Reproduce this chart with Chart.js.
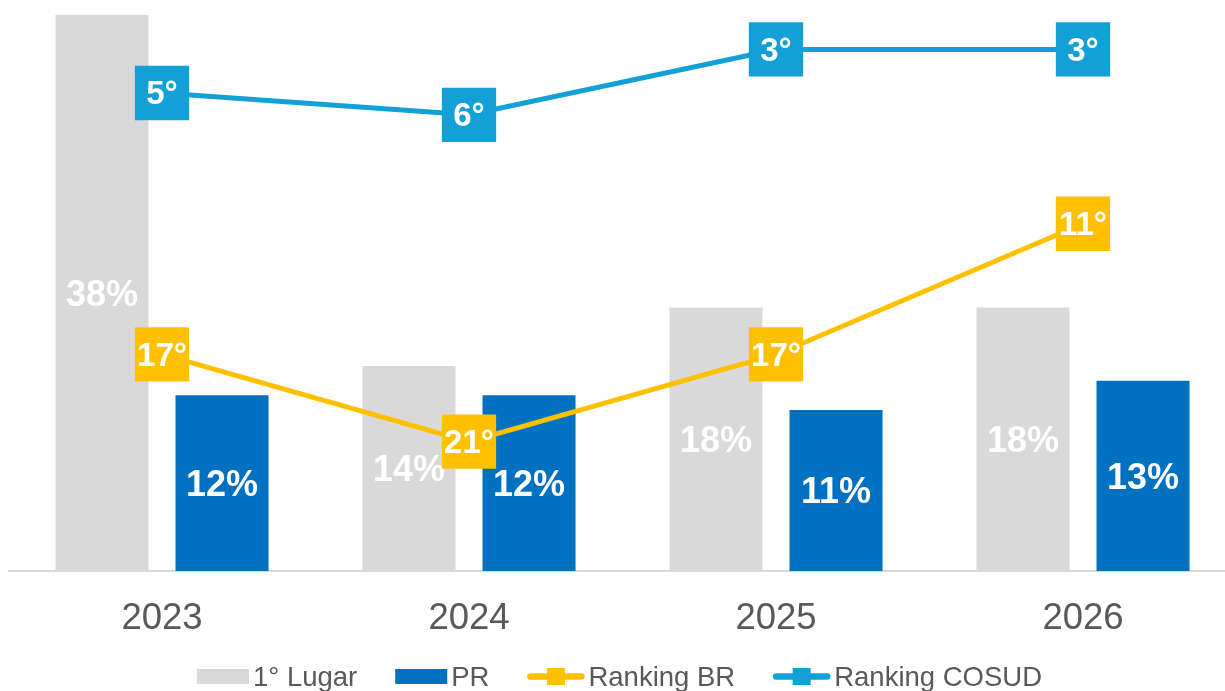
<!DOCTYPE html>
<html><head><meta charset="utf-8">
<script src="https://cdn.jsdelivr.net/npm/chart.js@4/dist/chart.umd.min.js"></script>
<style>
html,body{margin:0;padding:0;background:#fff;overflow:hidden;width:1225px;height:691px}
#wrap{position:absolute;left:0;top:0;width:1240px;height:691px}
canvas{display:block}
</style></head>
<body><div id="wrap"><canvas id="c" width="1240" height="691"></canvas></div>
<script>
const years = ['2023', '2024', '2025', '2026'];
const firstPlace = [38, 14, 18, 18];
const pr = [12, 12, 11, 13];
const rankBR = [17, 21, 17, 11];
const rankCOSUD = [5, 6, 3, 3];
const seriesNames = ['1° Lugar', 'PR', 'Ranking BR', 'Ranking COSUD'];

const FONT = '"Liberation Sans", Arial, sans-serif';
const GRAY = '#D9D9D9', BLUE = '#0070C0', YELLOW = '#FFC000', CYAN = '#12A0D7';

const labelPlugin = {
  id: 'valueLabels',
  afterDatasetDraw(chart, args) {
    const ds = chart.data.datasets[args.index];
    const meta = args.meta;
    const ctx = chart.ctx;
    ctx.save();
    ctx.fillStyle = '#FFFFFF';
    ctx.textAlign = 'center';
    ctx.textBaseline = 'middle';
    if (ds.type === 'bar') {
      ctx.font = 'bold 36px ' + FONT;
      meta.data.forEach((el, i) => {
        const p = el.getProps(['x', 'y', 'base'], true);
        ctx.fillText(ds.data[i] + '%', p.x, (p.y + p.base) / 2 + 3);
      });
    } else {
      ctx.font = 'bold 33px ' + FONT;
      meta.data.forEach((el, i) => {
        ctx.fillText(ds.data[i] + '°', el.x, el.y + 2);
      });
    }
    ctx.restore();
  }
};

const legendPlugin = {
  id: 'customLegend',
  afterDraw(chart) {
    const ctx = chart.ctx;
    ctx.save();
    ctx.font = '27.5px ' + FONT;
    const items = chart.data.datasets.map(ds => ({
      label: ds.label,
      color: ds.type === 'bar' ? ds.backgroundColor : ds.borderColor,
      kind: ds.type,
      w: ds.type === 'bar' ? 52 : 57
    }));
    const gap = 4, spacing = 38;
    let total = 0;
    items.forEach((it, i) => {
      it.tw = ctx.measureText(it.label).width;
      total += it.w + gap + it.tw + (i ? spacing : 0);
    });
    const ca = chart.chartArea;
    let x = (ca.left + ca.right) / 2 - 3 - total / 2;
    const cy = chart.height - 14.5;
    items.forEach(it => {
      ctx.fillStyle = it.color;
      if (it.kind === 'bar') {
        ctx.fillRect(x, cy - 7.5, it.w, 15);
      } else {
        ctx.strokeStyle = it.color;
        ctx.lineWidth = 6.5;
        ctx.lineCap = 'round';
        ctx.beginPath();
        ctx.moveTo(x + 3, cy);
        ctx.lineTo(x + it.w - 3, cy);
        ctx.stroke();
        ctx.fillRect(x + it.w / 2 - 9, cy - 8.5, 18, 17);
      }
      ctx.fillStyle = '#595959';
      ctx.textAlign = 'left';
      ctx.textBaseline = 'alphabetic';
      ctx.fillText(it.label, x + it.w + gap, cy + 9.5);
      x += it.w + gap + it.tw + spacing;
    });
    ctx.restore();
  }
};

new Chart(document.getElementById('c'), {
  type: 'bar',
  data: {
    labels: years,
    datasets: [
      { type: 'bar', label: seriesNames[0], data: firstPlace, backgroundColor: GRAY, yAxisID: 'y', order: 2,
        categoryPercentage: 0.782, barPercentage: 0.775 },
      { type: 'bar', label: seriesNames[1], data: pr, backgroundColor: BLUE, yAxisID: 'y', order: 2,
        categoryPercentage: 0.782, barPercentage: 0.775 },
      { type: 'line', label: seriesNames[2], data: rankBR, borderColor: YELLOW, backgroundColor: YELLOW,
        borderWidth: 5, pointStyle: 'rect', pointRadius: 38.4, pointHoverRadius: 38.4,
        pointBackgroundColor: YELLOW, pointBorderWidth: 0, tension: 0, yAxisID: 'y1', order: 1, clip: false },
      { type: 'line', label: seriesNames[3], data: rankCOSUD, borderColor: CYAN, backgroundColor: CYAN,
        borderWidth: 5, pointStyle: 'rect', pointRadius: 38.4, pointHoverRadius: 38.4,
        pointBackgroundColor: CYAN, pointBorderWidth: 0, tension: 0, yAxisID: 'y1', order: 1, clip: false }
    ]
  },
  options: {
    responsive: false,
    devicePixelRatio: 1,
    animation: false,
    layout: { autoPadding: false, padding: { left: 8.5, right: 3.5, top: 0, bottom: 0 } },
    plugins: { legend: { display: false }, tooltip: { enabled: false } },
    scales: {
      x: {
        grid: { display: false },
        border: { display: true, color: GRAY, width: 2 },
        ticks: { color: '#595959', font: { family: FONT, size: 36.5 }, padding: 18 },
        afterFit(s) { s.height = 120; }
      },
      y: { display: false, min: 0, max: 39 },
      y1: { display: false, reverse: true, min: 0.73, max: 26.94 }
    }
  },
  plugins: [labelPlugin, legendPlugin]
});
</script>
</body></html>
